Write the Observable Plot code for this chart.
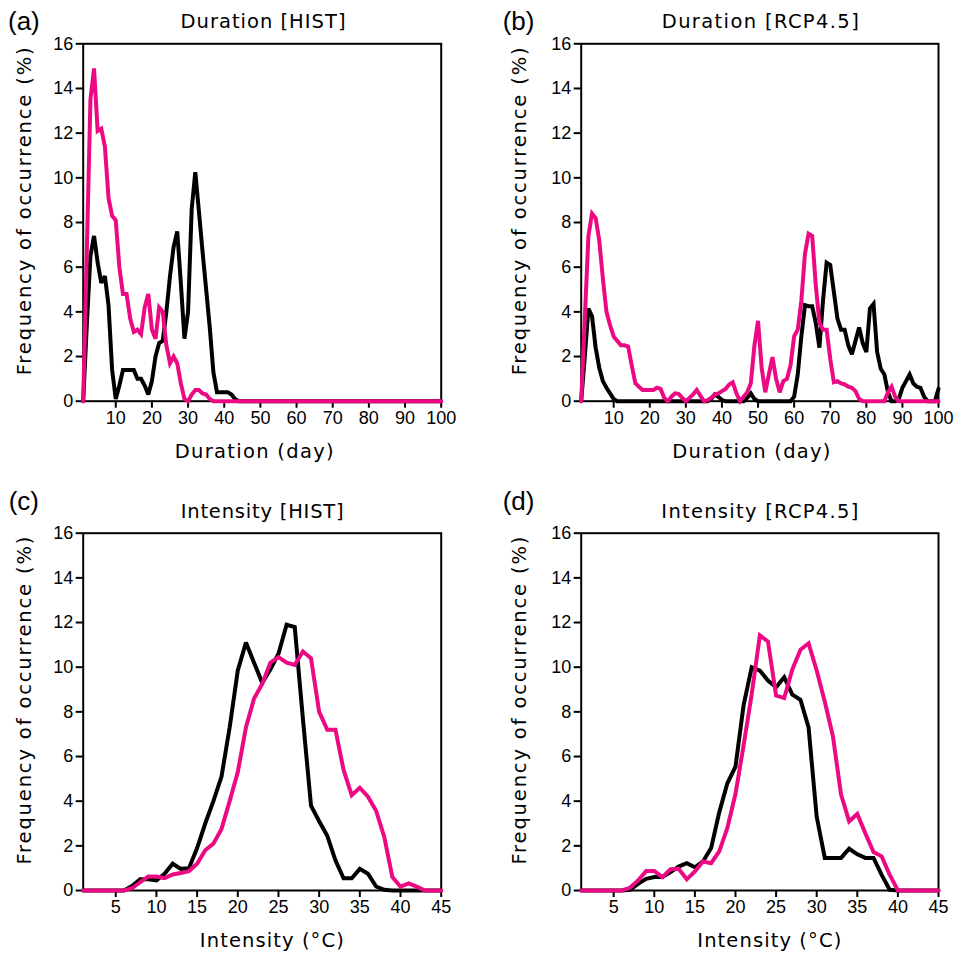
<!DOCTYPE html>
<html>
<head>
<meta charset="utf-8">
<script src="https://cdn.jsdelivr.net/npm/d3@7"></script>
<script src="https://cdn.jsdelivr.net/npm/@observablehq/plot@0.6"></script>
<style>
html, body { margin: 0; padding: 0; background: #fff; overflow: hidden; }
#chart { position: relative; width: 955px; height: 954px; overflow: hidden; }
#chart > div { position: absolute; }
</style>
</head>
<body>
<div id="chart"></div>
<script>
// ---------- categories / ticks ----------
const durationDays = Array.from({length: 100}, (_, i) => i + 1);
const intensityBins = Array.from({length: 45}, (_, i) => i + 1);
const durationTicks = [10, 20, 30, 40, 50, 60, 70, 80, 90, 100];
const intensityTicks = [5, 10, 15, 20, 25, 30, 35, 40, 45];
const freqTicks = [0, 2, 4, 6, 8, 10, 12, 14, 16];

// ---------- series (frequency of occurrence, %) ----------
// (a) Duration HIST
const durHistBlack = [
  0, 3.4, 6.5, 7.4, 6.2, 5.3, 5.6, 4.3, 1.4, 0.1,
  0.7, 1.4, 1.4, 1.4, 1.4, 1.0, 1.0, 0.7, 0.3, 0.9,
  2.0, 2.6, 2.7, 4.0, 5.6, 6.9, 7.6, 5.3, 2.8, 4.0,
  8.6, 10.25, 8.5, 6.7, 5.0, 3.3, 1.3, 0.4, 0.4, 0.4,
  0.4, 0.3, 0.1, 0, 0, 0, 0, 0, 0, 0,
  0, 0, 0, 0, 0, 0, 0, 0, 0, 0,
  0, 0, 0, 0, 0, 0, 0, 0, 0, 0,
  0, 0, 0, 0, 0, 0, 0, 0, 0, 0,
  0, 0, 0, 0, 0, 0, 0, 0, 0, 0,
  0, 0, 0, 0, 0, 0, 0, 0, 0, 0
];
const durHistPink = [
  0, 6.7, 13.5, 14.9, 12.1, 12.2, 11.4, 9.1, 8.3, 8.1,
  6.0, 4.8, 4.8, 3.7, 3.1, 3.2, 3.0, 4.2, 4.8, 3.2,
  2.8, 4.2, 4.0, 2.5, 1.7, 2.0, 1.7, 0.8, 0.1, 0,
  0.3, 0.5, 0.5, 0.35, 0.3, 0.1, 0, 0, 0, 0,
  0, 0, 0, 0, 0, 0, 0, 0, 0, 0,
  0, 0, 0, 0, 0, 0, 0, 0, 0, 0,
  0, 0, 0, 0, 0, 0, 0, 0, 0, 0,
  0, 0, 0, 0, 0, 0, 0, 0, 0, 0,
  0, 0, 0, 0, 0, 0, 0, 0, 0, 0,
  0, 0, 0, 0, 0, 0, 0, 0, 0, 0
];
// (b) Duration RCP4.5
const durRcpBlack = [
  0, 2.0, 4.15, 3.8, 2.4, 1.5, 0.9, 0.6, 0.35, 0.1,
  0, 0, 0, 0, 0, 0, 0, 0, 0, 0,
  0, 0, 0, 0, 0, 0, 0, 0, 0, 0,
  0, 0, 0, 0, 0, 0, 0.1, 0.3, 0.2, 0.05,
  0, 0, 0, 0, 0, 0, 0.15, 0.35, 0.1, 0,
  0, 0, 0, 0, 0, 0, 0, 0, 0, 0.2,
  1.2, 2.9, 4.3, 4.25, 4.25, 3.5, 2.4, 4.5, 6.2, 6.1,
  4.9, 3.7, 3.2, 3.2, 2.5, 2.1, 2.7, 3.3, 2.6, 2.2,
  4.15, 4.35, 2.2, 1.45, 1.2, 0.4, 0, 0, 0.1, 0.6,
  0.9, 1.2, 0.8, 0.65, 0.6, 0.2, 0, 0, 0, 0.55
];
const durRcpPink = [
  0, 3.7, 7.4, 8.4, 8.2, 7.2, 5.5, 4.0, 3.4, 2.9,
  2.7, 2.5, 2.5, 2.45, 1.6, 0.8, 0.65, 0.5, 0.5, 0.5,
  0.5, 0.6, 0.55, 0.15, 0, 0.2, 0.35, 0.33, 0.15, 0,
  0.15, 0.3, 0.5, 0.25, 0, 0.05, 0.15, 0.3, 0.35, 0.45,
  0.55, 0.75, 0.85, 0.35, 0, 0.2, 0.4, 0.8, 2.5, 3.6,
  1.5, 0.4, 1.2, 1.97, 1.0, 0.4, 0.9, 1.0, 1.6, 2.9,
  3.2, 4.5, 6.6, 7.5, 7.4, 5.2, 3.5, 3.2, 3.2, 1.9,
  0.85, 0.9, 0.8, 0.75, 0.65, 0.6, 0.45, 0.1, 0, 0,
  0, 0, 0, 0, 0, 0.4, 0.65, 0.2, 0, 0,
  0, 0, 0, 0, 0, 0, 0, 0, 0, 0
];
// (c) Intensity HIST
const intHistBlack = [
  0, 0, 0, 0, 0, 0, 0.2, 0.5, 0.5, 0.45,
  0.75, 1.2, 0.97, 1.0, 1.9, 3.0, 4.0, 5.1, 7.3, 9.85,
  11.1, 10.2, 9.3, 9.9, 10.6, 11.9, 11.8, 7.7, 3.8, 3.1,
  2.45, 1.35, 0.55, 0.55, 0.97, 0.75, 0.18, 0.03, 0, 0,
  0, 0, 0, 0, 0
];
const intHistPink = [
  0, 0, 0, 0, 0, 0, 0.1, 0.37, 0.63, 0.63,
  0.55, 0.72, 0.78, 0.87, 1.2, 1.8, 2.1, 2.76, 4.0, 5.3,
  7.3, 8.6, 9.25, 10.2, 10.45, 10.2, 10.1, 10.7, 10.4, 8.0,
  7.2, 7.2, 5.4, 4.27, 4.6, 4.2, 3.57, 2.4, 0.6, 0.17,
  0.32, 0.17, 0, 0, 0
];
// (d) Intensity RCP4.5
const intRcpBlack = [
  0, 0, 0, 0, 0, 0, 0.03, 0.3, 0.52, 0.6,
  0.6, 0.82, 1.07, 1.22, 1.04, 1.3, 1.9, 3.5, 4.8, 5.55,
  8.3, 10.0, 9.85, 9.4, 9.1, 9.55, 8.77, 8.54, 7.3, 3.3,
  1.46, 1.46, 1.46, 1.87, 1.62, 1.46, 1.46, 0.7, 0.03, 0,
  0, 0, 0, 0, 0
];
const intRcpPink = [
  0, 0, 0, 0, 0, 0, 0.12, 0.45, 0.87, 0.87,
  0.6, 0.95, 0.97, 0.5, 0.85, 1.3, 1.22, 1.75, 2.8, 4.33,
  6.5, 8.8, 11.42, 11.15, 8.73, 8.62, 9.9, 10.78, 11.07, 9.85,
  8.45, 6.9, 4.3, 3.1, 3.43, 2.55, 1.72, 1.53, 0.7, 0,
  0, 0, 0, 0, 0
];

// ---------- text ----------
const panelLetters = ["(a)", "(b)", "(c)", "(d)"];
const panelTitles = ["Duration [HIST]", "Duration [RCP4.5]", "Intensity [HIST]", "Intensity [RCP4.5]"];
const xLabels = ["Duration (day)", "Duration (day)", "Intensity (°C)", "Intensity (°C)"];
const yLabel = "Frequency of occurrence (%)";

const BLACK = "#000000";
const PINK = "#ec0a84";
const NCL_FONT = "DejaVu Sans";
const TICK_FONT = "Liberation Sans, Arial, sans-serif";

// layout per panel (svg box + frame margins + text offsets)
const layout = [
  {left: 0,   top: 0,   width: 477, height: 477, mL: 82.7,  mR: 36.3, mT: 43.3, mB: 76.3,
   letterDx: -75.2, letterDy: -14.3, titleDx: 0.8, titleDy: -16, titleW: 165,
   xlabDx: -8, xlabW: 159, ylabDx: -52, ylabDy: -11.2},
  {left: 477, top: 0,   width: 478, height: 477, mL: 103.7, mR: 17,   mT: 43.3, mB: 76.3,
   letterDx: -78.5, letterDy: -14.3, titleDx: 0.4, titleDy: -16, titleW: 197,
   xlabDx: -8.5, xlabW: 158, ylabDx: -55, ylabDy: -11.2},
  {left: 0,   top: 477, width: 477, height: 477, mL: 82.7,  mR: 36.3, mT: 55.7, mB: 64,
   letterDx: -74.5, letterDy: -23.7, titleDx: 0, titleDy: -15.4, titleW: 163,
   xlabDx: 9.6, xlabW: 144, ylabDx: -52, ylabDy: -11.3},
  {left: 477, top: 477, width: 478, height: 477, mL: 103.7, mR: 17,   mT: 55.7, mB: 64,
   letterDx: -78.5, letterDy: -23.7, titleDx: 0, titleDy: -15.4, titleW: 197,
   xlabDx: 9.4, xlabW: 144, ylabDx: -55, ylabDy: -11.3}
];

const series = [
  {xs: durationDays, black: durHistBlack, pink: durHistPink, ticks: durationTicks, domain: [1, 100]},
  {xs: durationDays, black: durRcpBlack, pink: durRcpPink, ticks: durationTicks, domain: [1, 100]},
  {xs: intensityBins, black: intHistBlack, pink: intHistPink, ticks: intensityTicks, domain: [1, 45]},
  {xs: intensityBins, black: intRcpBlack, pink: intRcpPink, ticks: intensityTicks, domain: [1, 45]}
];

const chart = document.getElementById("chart");

series.forEach((s, i) => {
  const L = layout[i];
  const blackData = s.xs.map((x, k) => ({x, v: s.black[k]}));
  const pinkData = s.xs.map((x, k) => ({x, v: s.pink[k]}));
  const svg = Plot.plot({
    width: L.width,
    height: L.height,
    marginLeft: L.mL,
    marginRight: L.mR,
    marginTop: L.mT,
    marginBottom: L.mB,
    style: {fontFamily: TICK_FONT, fontSize: "18px", color: "black", background: "white", overflow: "visible"},
    x: {domain: s.domain},
    y: {domain: [0, 16]},
    marks: [
      Plot.frame({stroke: "black", strokeWidth: 2}),
      Plot.axisX({ticks: s.ticks, tickSize: 7, tickPadding: 3, strokeWidth: 2, label: null,
                  fontSize: 18, fontFamily: TICK_FONT, fill: "black"}),
      Plot.axisY({ticks: freqTicks, tickSize: 7, tickPadding: 3, strokeWidth: 2, label: null,
                  fontSize: 18, fontFamily: TICK_FONT, fill: "black"}),
      Plot.line(blackData, {x: "x", y: "v", stroke: BLACK, strokeWidth: 4, strokeLinejoin: "miter", strokeMiterlimit: 3}),
      Plot.line(pinkData, {x: "x", y: "v", stroke: PINK, strokeWidth: 4, strokeLinejoin: "miter", strokeMiterlimit: 3}),
      Plot.text([panelLetters[i]], {text: d => d, frameAnchor: "top-left", textAnchor: "start",
                  lineAnchor: "bottom", dx: L.letterDx, dy: L.letterDy,
                  fontSize: 26, fontFamily: TICK_FONT, fill: "black"}),
      Plot.text([panelTitles[i]], {text: d => d, frameAnchor: "top", textAnchor: "middle",
                  lineAnchor: "bottom", dx: L.titleDx, dy: L.titleDy,
                  fontSize: 19.5, fontFamily: NCL_FONT, fill: "black"}),
      Plot.text([xLabels[i]], {text: d => d, frameAnchor: "bottom", textAnchor: "middle",
                  lineAnchor: "bottom", dx: L.xlabDx, dy: 56.6,
                  fontSize: 19.5, fontFamily: NCL_FONT, fill: "black"}),
      Plot.text([yLabel], {text: d => d, frameAnchor: "left", textAnchor: "middle", rotate: -90,
                  lineAnchor: "bottom", dx: L.ylabDx, dy: L.ylabDy,
                  fontSize: 19.5, fontFamily: NCL_FONT, fill: "black"})
    ]
  });
  const widths = {};
  widths[panelTitles[i]] = L.titleW;
  widths[xLabels[i]] = L.xlabW;
  widths[yLabel] = 328;
  d3.select(svg).selectAll("text").each(function () {
    const w = widths[this.textContent];
    if (w) {
      this.setAttribute("textLength", w);
      this.setAttribute("lengthAdjust", "spacing");
    }
  });
  const holder = document.createElement("div");
  holder.style.left = L.left + "px";
  holder.style.top = L.top + "px";
  holder.appendChild(svg);
  chart.appendChild(holder);
});
</script>
</body>
</html>
